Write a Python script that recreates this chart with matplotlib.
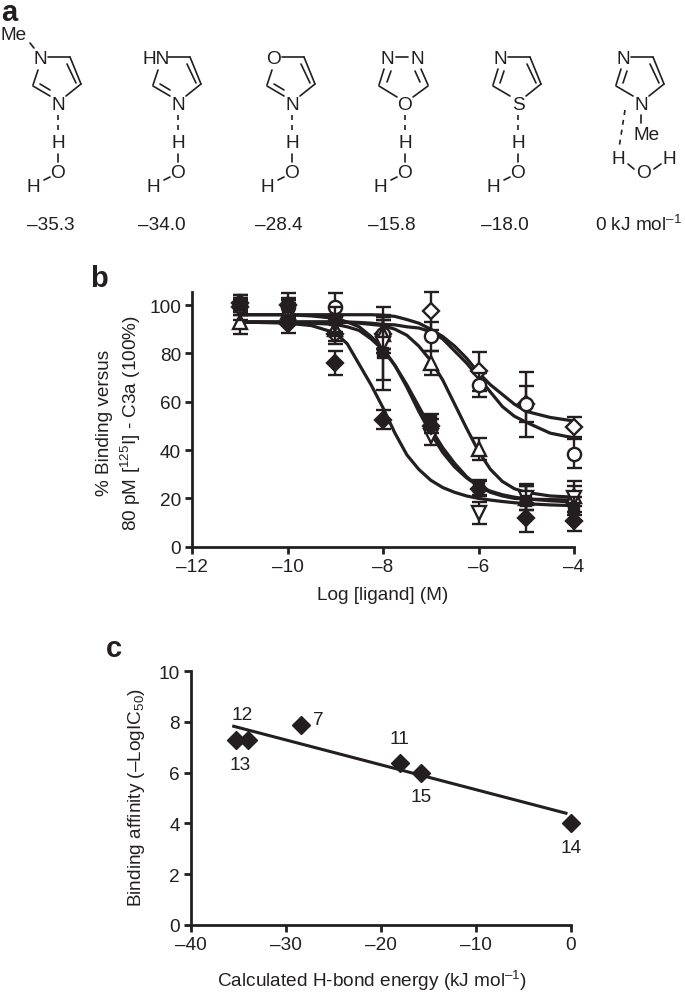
#!/usr/bin/python
import matplotlib
matplotlib.use('Agg')
import matplotlib.pyplot as plt

plt.rcParams['font.family'] = ['Liberation Sans', 'DejaVu Sans']
plt.rcParams['mathtext.fontset'] = 'custom'
plt.rcParams['mathtext.rm'] = 'Liberation Sans'
plt.rcParams['mathtext.it'] = 'Liberation Sans:italic'
plt.rcParams['mathtext.default'] = 'regular'

INK = '#231f20'
fontsize = 13.7

# panel a
energy_labels = ['–35.3', '–34.0', '–28.4', '–15.8', '–18.0', '0 kJ mol$^{–1}$']
top_atoms = ['N', 'HN', 'O', 'N', 'N', 'N']
bottom_atoms = ['N', 'N', 'N', 'O', 'S', 'N']

# panel b
dose = [-11, -10, -9, -8, -7, -6, -5, -4]
filled_diamond = [101, 92, 76, 52.5, 50, 24, 12, 10.5]
filled_diamond_err = [3, 3.5, 5, 4, 3, 3, 6, 4]
filled_square = [100, 99, 94, 80, 52, 24.5, 19, 15.5]
filled_square_err = [4, 4, 5, 15, 3, 3, 7, 5]
tri_down = [98, 97, 92, 84, 46, 14, 20, 20]
tri_down_err = [4, 3, 4, 15, 4, 4.5, 5, 7]
tri_up = [93, 97, 90, 88, 76, 40.5, 20, 21]
tri_up_err = [5, 4, 5, 8, 5, 4.5, 5, 4]
open_circle = [100, 99, 99, 88, 87, 67, 59, 38.5]
open_circle_err = [3, 3, 6, 6, 6, 5, 7.5, 6]
open_diamond = [99, 100, 88, 88, 97.5, 72.6, 59, 49.5]
open_diamond_err = [3, 5, 4, 6, 8, 8, 13.5, 4]

curve_x = [-11, -10, -9.5, -9, -8.75, -8.5, -8.25, -8, -7.75, -7.5, -7.25,
           -7, -6.75, -6.5, -6.25, -6, -5.75, -5.5, -5.25, -5, -4.5, -4]
curve_a = [93, 92.5, 91.5, 88.5, 84, 75.5, 67, 57.5, 47, 38, 32,
           27.5, 24.5, 22.5, 21, 20, 19.3, 18.7, 18.2, 17.8, 17.3, 17]
curve_b = [96, 96, 95.5, 94.5, 93, 91, 87, 82, 75, 66, 56,
           47, 39, 33, 28.5, 25, 23, 21.5, 20.5, 19.8, 19, 18.5]
curve_c = [93, 92.8, 92.5, 92, 91, 89.5, 86, 81.5, 75, 67, 58,
           49, 41, 34.5, 29, 25, 22.5, 21, 20, 19.7, 19.5, 19.3]
curve_d = [93, 93, 93, 93, 92.8, 92.5, 92, 91.5, 90, 87.5, 83,
           77, 69, 59, 49, 39.5, 32, 27, 24, 22.5, 21, 20.5]
curve_e = [96, 96, 96, 96, 96, 96, 96, 95.8, 95.3, 94, 92.5,
           90, 87, 83, 78, 72, 67, 63, 59, 56, 53.5, 52]
curve_f = [93, 93, 93, 93, 93, 92.8, 92.5, 92, 91.8, 91, 90.5,
           89, 86, 81, 76, 70, 64, 58, 54, 51.5, 47, 45]

# panel c
energy = [-35.3, -34.0, -28.4, -18.0, -15.8, 0]
affinity = [7.3, 7.3, 7.9, 6.4, 6.0, 4.0]
compound = ['13', '12', '7', '11', '15', '14']
fit_x = [-35.5, -0.5]
fit_y = [7.83, 4.4]

W, H = 685, 995
fig = plt.figure(figsize=(W / 100, H / 100), dpi=100)


def axes_px(x0, x1, y_top, y_bot):
    return fig.add_axes([x0 / W, 1 - y_bot / H, (x1 - x0) / W, (y_bot - y_top) / H])


def style_axes(ax):
    for side in ['top', 'right']:
        ax.spines[side].set_visible(False)
    for side in ['left', 'bottom']:
        ax.spines[side].set_linewidth(2.0)
        ax.spines[side].set_color(INK)
    ax.tick_params(length=5, width=2.0, color=INK, labelcolor=INK,
                   labelsize=fontsize, pad=3)


# overlay in pixel coordinates for the drawn structures and loose text
over = fig.add_axes([0, 0, 1, 1])
over.set_xlim(0, W)
over.set_ylim(H, 0)
over.axis('off')


def bond(x0, y0, x1, y1, dashed=False):
    if dashed:
        over.plot([x0, x1], [y0, y1], color=INK, lw=1.2, dashes=(3, 3))
    else:
        over.plot([x0, x1], [y0, y1], color=INK, lw=1.2, solid_capstyle='round')


def atom(x, y, s, **kw):
    over.text(x, y, s, ha='center', va='center', color=INK, fontsize=fontsize, **kw)


def ring(bx, top, bottom, index):
    # offsets from the bottom atom of the five membered ring
    atom(bx, 105, bottom)
    if index == 3:
        # oxadiazole has two nitrogens on top
        atom(bx - 18, 60, 'N')
        atom(bx + 12, 60, 'N')
        bond(bx - 9, 58, bx + 3, 58)
        bond(bx - 21, 70, bx - 26, 86)
        bond(bx - 14, 72, bx - 18, 83)
        bond(bx + 16, 70, bx + 23, 86)
        bond(bx + 10, 72, bx + 15, 83)
        bond(bx - 26, 87, bx - 8, 98)
        bond(bx + 23, 87, bx + 8, 98)
        return
    if top == 'HN':
        atom(bx - 22, 59, top)
    else:
        atom(bx - 18, 60, top)
    bond(bx - 10, 58, bx + 12, 58)
    bond(bx + 12, 58, bx + 23, 85)
    bond(bx + 9, 65, bx + 18, 84)
    bond(bx + 23, 85, bx + 8, 97)
    bond(bx - 25, 87, bx - 8, 97)
    if top == 'N' and index in (4, 5):
        # ring double bond sits next to the top nitrogen
        bond(bx - 20, 70, bx - 25, 86)
        bond(bx - 14, 72, bx - 18, 84)
    else:
        bond(bx - 20, 71, bx - 25, 86)
        bond(bx - 18, 85, bx - 8, 91)


def water_below(bx):
    bond(bx, 116, bx, 134, dashed=True)
    atom(bx, 144, 'H')
    bond(bx, 155, bx, 163)
    atom(bx, 173, 'O')
    bond(bx - 8, 178, bx - 14, 181)
    atom(bx - 25, 188, 'H')


ring_x = [58, 178, 292, 405, 518, 641]
label_x = [51, 162, 279, 392, 505, 639]
for i in range(6):
    ring(ring_x[i], top_atoms[i], bottom_atoms[i], i)
    atom(label_x[i], 225, energy_labels[i])
    if i < 5:
        water_below(ring_x[i])

# the two odd bits: N-methyl on the first ring, twisted water on the last
atom(14, 36, 'Me')
bond(30, 44, 34, 49)
bx = ring_x[5]
bond(bx, 116, bx, 124)
atom(bx + 6, 136, 'Me')
bond(bx - 16, 111, bx - 22, 149, dashed=True)
atom(bx - 23, 159, 'H')
atom(bx + 3, 173, 'O')
atom(bx + 28, 159, 'H')
bond(bx - 13, 165, bx - 7, 170)
bond(bx + 13, 170, bx + 20, 165)

# panel letters
for s, x, y in [('a', 9, 13), ('b', 99, 279), ('c', 114, 649)]:
    over.text(x, y, s, ha='center', va='center', fontsize=21, fontweight='bold', color=INK)

# panel b
ax = axes_px(192, 574, 293, 547.7)
style_axes(ax)
ax.set_xlim(-12, -4)
ax.set_ylim(0, 105.4)
ax.set_xticks([-12, -10, -8, -6, -4])
ax.set_xticklabels(['–12', '–10', '–8', '–6', '–4'])
ax.set_yticks([0, 20, 40, 60, 80, 100])
for curve in [curve_a, curve_b, curve_c, curve_d, curve_e, curve_f]:
    ax.plot(curve_x, curve, color=INK, lw=2.3, zorder=3)

series = [
    (open_diamond, open_diamond_err, 'D', 'white', 7.8, True),
    (open_circle, open_circle_err, 'o', 'white', 9.5, True),
    (tri_up, tri_up_err, '^', 'white', 10, False),
    (tri_down, tri_down_err, 'v', 'white', 10, False),
    (filled_square, filled_square_err, 's', INK, 7.5, False),
    (filled_diamond, filled_diamond_err, 'D', INK, 7.8, False),
]
for n, (vals, errs, marker, face, size, dotted) in enumerate(series):
    parts = ax.errorbar(dose, vals, yerr=errs, fmt=marker, mfc=face, mec=INK, mew=1.7,
                        ms=size, ecolor=INK, elinewidth=1.7, capsize=5.4, capthick=1.7,
                        clip_on=False, zorder=4 + n)
    for line in parts[1] + parts[2]:
        line.set_clip_on(False)
    if dotted:
        ax.plot(dose, vals, ls='none', marker='o', ms=1.8, color=INK,
                clip_on=False, zorder=4 + n)

over.text(383, 596, 'Log [ligand] (M)', ha='center', va='center', fontsize=fontsize, color=INK)
over.text(105, 423, '% Binding versus', rotation=90, ha='center', va='center',
          fontsize=fontsize, color=INK)
over.text(131, 423, '80 pM [$^{125}$I] - C3a (100%)', rotation=90, ha='center', va='center',
          fontsize=fontsize, color=INK)

# panel c
ax2 = axes_px(191, 570.7, 672.3, 925.7)
style_axes(ax2)
ax2.set_xlim(-40, 0)
ax2.set_ylim(0, 10)
ax2.set_xticks([-40, -30, -20, -10, 0])
ax2.set_xticklabels(['–40', '–30', '–20', '–10', '0'])
ax2.set_yticks([0, 2, 4, 6, 8, 10])
ax2.plot(fit_x, fit_y, color=INK, lw=2.2, zorder=3)
ax2.plot(energy, affinity, ls='none', marker='D', ms=8.8, color=INK, clip_on=False, zorder=4)

# label offsets from each point, in pixels
label_off = [(5, -25), (-6, 25), (17, 5), (0, 24), (0, -24), (0, -24)]
for name, ex, af, off in zip(compound, energy, affinity, label_off):
    ax2.annotate(name, (ex, af), xytext=off, textcoords='offset pixels', ha='center',
                 va='center', fontsize=fontsize, color=INK, annotation_clip=False)

over.text(533, 732, '$\\mathit{R}^{2}$ = 0.9', ha='center', va='center',
          fontsize=fontsize, color=INK)
over.text(372, 981, 'Calculated H-bond energy (kJ mol$^{–1}$)', ha='center', va='center',
          fontsize=fontsize, color=INK)
over.text(137, 797, 'Binding affinity (–LogIC$_{50}$)', rotation=90, ha='center', va='center',
          fontsize=fontsize, color=INK)

plt.savefig('out.png', dpi=100)
